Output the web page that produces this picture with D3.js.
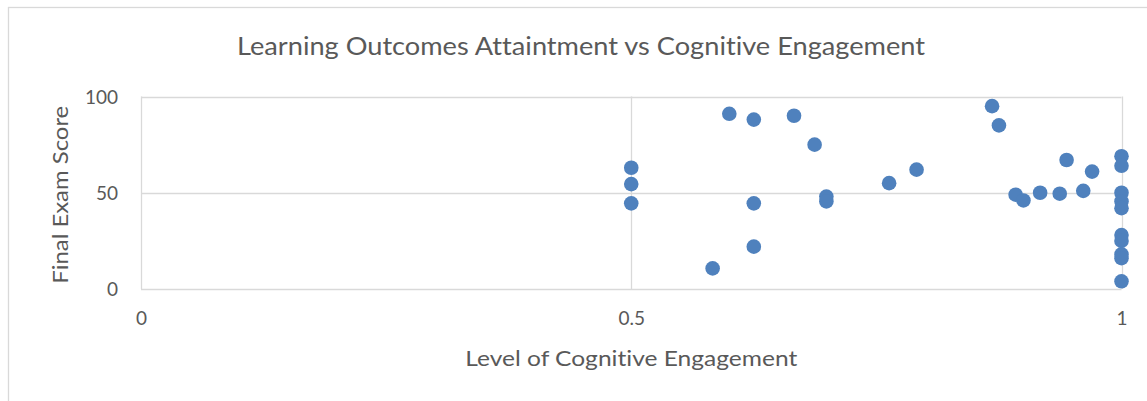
<!DOCTYPE html>
<html>
<head>
<meta charset="utf-8">
<script src="https://cdn.jsdelivr.net/npm/d3@7"></script>
<style>
  html, body { margin: 0; padding: 0; background: #fff; }
  svg text { font-family: Lato, "Open Sans", sans-serif; fill: #595959; font-variant-ligatures: none; font-feature-settings: "liga" 0; }
</style>
</head>
<body>
<svg id="chart"></svg>
<script>
const width = 1147;
const height = 401;

const engagement = [
  0.5, 0.5, 0.5, 0.583, 0.6, 0.625, 0.625, 0.625, 0.666, 0.687, 0.699, 0.699,
  0.763, 0.791, 0.868, 0.875, 0.892, 0.9, 0.917, 0.937, 0.944, 0.961, 0.97,
  1, 1, 1, 1, 1, 1, 1, 1, 1, 1
];
const examScore = [
  63, 54.5, 44.5, 10.7, 91, 88, 44.5, 22, 90, 75, 48, 45.5,
  55, 62, 95, 85, 49, 46, 50, 49.5, 67, 51, 61,
  69, 64, 50, 45.5, 42, 28, 25, 18, 16, 4
];
const xTicks = [0, 0.5, 1];
const yTicks = [0, 50, 100];

const margin = { top: 96.5, right: 25.5, bottom: 112, left: 141 };

const svg = d3.select("#chart")
  .attr("width", width)
  .attr("height", height);

// chart area border (cut off on the right/bottom like the original)
svg.append("rect")
  .attr("x", 8.5)
  .attr("y", 7.5)
  .attr("width", 1300)
  .attr("height", 600)
  .attr("fill", "#fff")
  .attr("stroke", "#d9d9d9")
  .attr("stroke-width", 1.3);

const x = d3.scaleLinear()
  .domain([0, 1])
  .range([margin.left, width - margin.right]);

const y = d3.scaleLinear()
  .domain([0, 100])
  .range([height - margin.bottom, margin.top]);

// gridlines
svg.append("g")
  .selectAll("line")
  .data(yTicks)
  .join("line")
  .attr("x1", x(0))
  .attr("x2", x(1))
  .attr("y1", d => Math.round(y(d)) + 0.5)
  .attr("y2", d => Math.round(y(d)) + 0.5)
  .attr("stroke", "#d9d9d9")
  .attr("stroke-width", 1.3);

svg.append("g")
  .selectAll("line")
  .data(xTicks)
  .join("line")
  .attr("x1", d => Math.round(x(d)) + 0.5)
  .attr("x2", d => Math.round(x(d)) + 0.5)
  .attr("y1", y(100))
  .attr("y2", y(0))
  .attr("stroke", "#d9d9d9")
  .attr("stroke-width", 1.3);

// axes (labels only, lines drawn as grid)
const yAxis = svg.append("g")
  .attr("transform", `translate(${x(0) - 23},0)`)
  .call(d3.axisLeft(y).tickValues(yTicks).tickSize(0).tickPadding(0));
yAxis.select(".domain").remove();
yAxis.selectAll("text")
  .attr("font-size", 19)
  .attr("font-family", "Lato, 'Open Sans', sans-serif")
  .attr("fill", "#595959")
  .attr("dy", "0.35em");

const xAxis = svg.append("g")
  .attr("transform", `translate(0,${y(0) + 22})`)
  .call(d3.axisBottom(x).tickValues(xTicks).tickFormat(d3.format("")).tickSize(0).tickPadding(0));
xAxis.select(".domain").remove();
xAxis.selectAll("text")
  .attr("font-size", 19)
  .attr("font-family", "Lato, 'Open Sans', sans-serif")
  .attr("fill", "#595959")
  .attr("dy", "0.71em");

// points
svg.append("g")
  .selectAll("circle")
  .data(engagement.map((e, i) => ({ e, s: examScore[i] })))
  .join("circle")
  .attr("cx", d => x(d.e))
  .attr("cy", d => y(d.s))
  .attr("r", 7.3)
  .attr("fill", "#4f81bd");

// titles
svg.append("text")
  .attr("x", 581)
  .attr("y", 55)
  .attr("text-anchor", "middle")
  .attr("font-size", 25)
  .attr("textLength", 688)
  .attr("lengthAdjust", "spacingAndGlyphs")
  .text("Learning Outcomes Attaintment vs Cognitive Engagement");

svg.append("text")
  .attr("x", x(0.5))
  .attr("y", 366)
  .attr("text-anchor", "middle")
  .attr("font-size", 21)
  .attr("textLength", 332)
  .attr("lengthAdjust", "spacingAndGlyphs")
  .text("Level of Cognitive Engagement");

svg.append("text")
  .attr("transform", `translate(68,${(y(0) + y(100)) / 2 + 2}) rotate(-90)`)
  .attr("text-anchor", "middle")
  .attr("font-size", 21)
  .attr("textLength", 178)
  .attr("lengthAdjust", "spacingAndGlyphs")
  .text("Final Exam Score");
</script>
</body>
</html>
